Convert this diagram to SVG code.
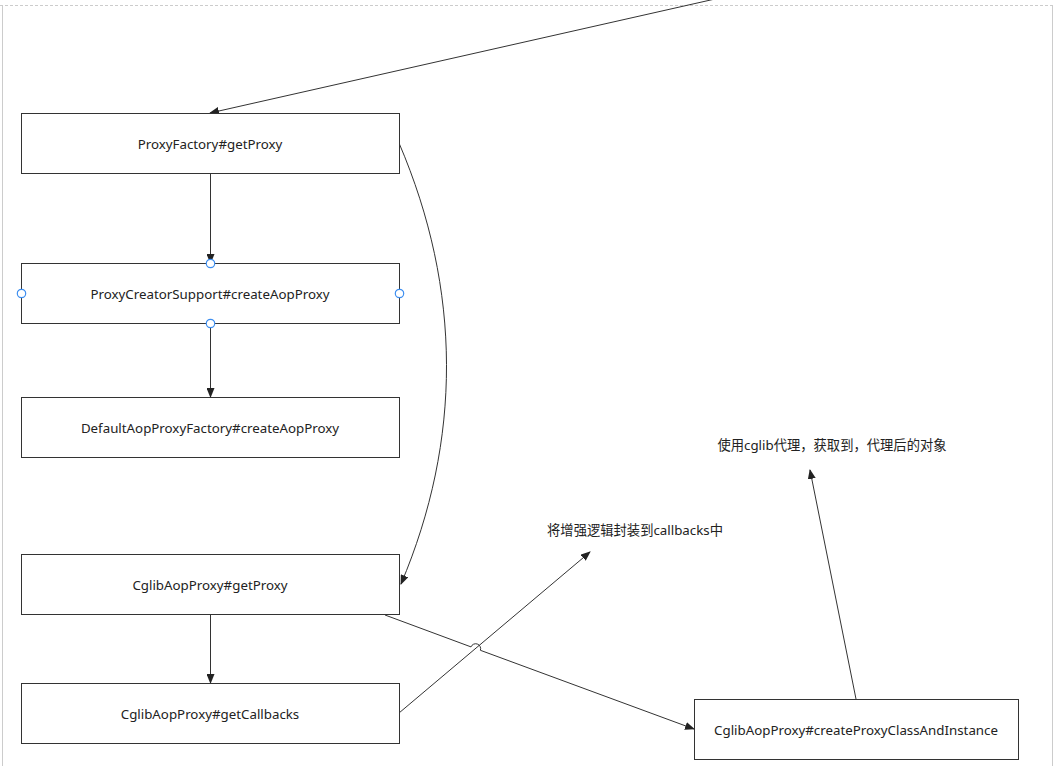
<svg xmlns="http://www.w3.org/2000/svg" width="1055" height="766" viewBox="0 0 1055 766">
<style>
.box{fill:#fff;stroke:#333;stroke-width:1}
.t{font-family:"Noto Sans","Noto Sans CJK SC",sans-serif;font-size:13.3px;fill:#222;text-anchor:middle;dominant-baseline:central}
.c{fill:none;stroke:#333;stroke-width:1}
.h{fill:#fff;stroke:#3d8ef0;stroke-width:1.2}
</style>
<defs>
<marker id="arr" markerWidth="10" markerHeight="8" refX="9" refY="4" orient="auto" markerUnits="userSpaceOnUse">
<path d="M0,0 L10,4 L0,8 Z" fill="#222"/>
</marker>
</defs>
<rect width="1055" height="766" fill="#fff"/>
<g id="frame" stroke="#ccc" stroke-width="1" fill="none">
<line x1="0" y1="5.5" x2="1055" y2="5.5" stroke-dasharray="3,2"/>
<line x1="2.5" y1="5" x2="2.5" y2="766"/>
<line x1="1052.5" y1="5" x2="1052.5" y2="766"/>
</g>
<g id="connectors">
<line class="c" x1="715" y1="-1" x2="210" y2="113" marker-end="url(#arr)"/>
<line class="c" x1="210.5" y1="173" x2="210.5" y2="263" marker-end="url(#arr)"/>
<line class="c" x1="210.5" y1="323" x2="210.5" y2="397" marker-end="url(#arr)"/>
<path class="c" d="M399,143 C462,290 462,440 401,584" marker-end="url(#arr)"/>
<line class="c" x1="210.5" y1="614" x2="210.5" y2="683" marker-end="url(#arr)"/>
<line class="c" x1="399" y1="713" x2="590" y2="552" marker-end="url(#arr)"/>
<path class="c" d="M385,615 L471,646.9 A5,5 0 0 1 480.4,650.3 L694,729" marker-end="url(#arr)"/>
<line class="c" x1="856" y1="699" x2="810" y2="470" marker-end="url(#arr)"/>
</g>
<g id="n1"><rect class="box" x="21.5" y="113.5" width="378" height="60"/><text class="t" x="210" y="144">ProxyFactory#getProxy</text></g>
<g id="n2"><rect class="box" x="21.5" y="263.5" width="378" height="60"/><text class="t" x="210" y="294">ProxyCreatorSupport#createAopProxy</text>
<circle class="h" cx="210.5" cy="263.5" r="4.2"/><circle class="h" cx="21.5" cy="293.5" r="4.2"/><circle class="h" cx="399.5" cy="293.5" r="4.2"/><circle class="h" cx="210.5" cy="323.5" r="4.2"/></g>
<g id="n3"><rect class="box" x="21.5" y="397.5" width="378" height="60"/><text class="t" x="210" y="428">DefaultAopProxyFactory#createAopProxy</text></g>
<g id="n4"><rect class="box" x="21.5" y="554.5" width="378" height="60"/><text class="t" x="210" y="585">CglibAopProxy#getProxy</text></g>
<g id="n5"><rect class="box" x="21.5" y="683.5" width="378" height="60"/><text class="t" x="210" y="714">CglibAopProxy#getCallbacks</text></g>
<g id="n6"><rect class="box" x="694.5" y="699.5" width="324" height="60"/><text class="t" x="856" y="730">CglibAopProxy#createProxyClassAndInstance</text></g>
<g id="l1"><text class="t" x="832" y="445">使用cglib代理，获取到，代理后的对象</text></g>
<g id="l2"><text class="t" x="635" y="530">将增强逻辑封装到callbacks中</text></g>
</svg>
